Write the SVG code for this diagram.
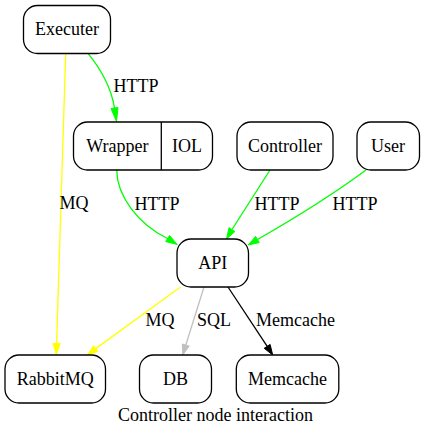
<svg xmlns="http://www.w3.org/2000/svg" width="434" height="439" viewBox="0 0 434 439">
<style>
.n{fill:#fff;stroke:#000;stroke-width:1.3}
.e{fill:none;stroke-width:1.3}
.g{stroke:#00ff00}.gf{fill:#00ff00;stroke:#00ff00}
.y{stroke:#ffff00}.yf{fill:#ffff00;stroke:#ffff00}
.s{stroke:#c0c0c0}.sf{fill:#c0c0c0;stroke:#c0c0c0}
.k{stroke:#000}.kf{fill:#000;stroke:#000}
</style>
<rect width="434" height="439" fill="#fff"/>
<g id="connectors">
<path class="e y" d="M65.7,53.3 L56.6,343.5"/>
<polygon class="yf" points="53,343.4 60.2,343.6 56.3,354.5"/>
<text style="font-family:'Liberation Serif',serif !important" font-size="18" text-anchor="middle" x="74" y="209">MQ</text>

<path class="e g" d="M88,53.3 C100,68 111,86 114.5,108"/>
<polygon class="gf" points="111,108.5 118,107.5 116.5,121.5"/>
<text style="font-family:'Liberation Serif',serif !important" font-size="18" text-anchor="middle" x="136" y="92">HTTP</text>

<path class="e g" d="M116.7,170 C117,196 138,224 167.5,238.5"/>
<polygon class="gf" points="165.7,241.6 169.5,235.5 177.3,244.5"/>
<text style="font-family:'Liberation Serif',serif !important" font-size="18" text-anchor="middle" x="157" y="210">HTTP</text>

<path class="e g" d="M270,170 L232,229.5"/>
<polygon class="gf" points="234.9,231.5 229,227.7 226.5,239"/>
<text style="font-family:'Liberation Serif',serif !important" font-size="18" text-anchor="middle" x="277" y="210">HTTP</text>

<path class="e g" d="M366,170 C335,193 295,218 257.5,239.5"/>
<polygon class="gf" points="259.3,242.6 255.6,236.4 248.3,245"/>
<text style="font-family:'Liberation Serif',serif !important" font-size="18" text-anchor="middle" x="355" y="210">HTTP</text>

<path class="e y" d="M180.5,287 L95.7,348.6"/>
<polygon class="yf" points="97.8,351.5 93.6,345.7 87.3,355"/>
<text style="font-family:'Liberation Serif',serif !important" font-size="18" text-anchor="middle" x="160" y="326">MQ</text>

<path class="e s" d="M204,287 L185.8,345"/>
<polygon class="sf" points="189.2,346.1 182.4,344 182.8,355"/>
<text style="font-family:'Liberation Serif',serif !important" font-size="18" text-anchor="middle" x="214" y="326">SQL</text>

<path class="e k" d="M228,287 L267.2,346.3"/>
<polygon class="kf" points="264.2,348.3 270.1,344.4 272.7,355"/>
<text style="font-family:'Liberation Serif',serif !important" font-size="18" text-anchor="middle" x="295.5" y="326">Memcache</text>
</g>
<g id="Executer">
<rect class="n" x="23.5" y="5.5" width="87" height="48" rx="14"/>
<text style="font-family:'Liberation Serif',serif !important" font-size="18" text-anchor="middle" x="67" y="35">Executer</text>
</g>
<g id="Wrapper">
<rect class="n" x="73.5" y="122" width="139" height="48" rx="14"/>
<line class="n" x1="161.3" y1="122" x2="161.3" y2="170"/>
<text style="font-family:'Liberation Serif',serif !important" font-size="18" text-anchor="middle" x="117.4" y="151.5">Wrapper</text>
<text style="font-family:'Liberation Serif',serif !important" font-size="18" text-anchor="middle" x="187" y="151.5">IOL</text>
</g>
<g id="Controller">
<rect class="n" x="237" y="122" width="96" height="48" rx="14"/>
<text style="font-family:'Liberation Serif',serif !important" font-size="18" text-anchor="middle" x="285" y="151.5">Controller</text>
</g>
<g id="User">
<rect class="n" x="357" y="122" width="62.5" height="48" rx="14"/>
<text style="font-family:'Liberation Serif',serif !important" font-size="18" text-anchor="middle" x="388" y="151.5">User</text>
</g>
<g id="API">
<rect class="n" x="177" y="239" width="71.5" height="48" rx="14"/>
<text style="font-family:'Liberation Serif',serif !important" font-size="18" text-anchor="middle" x="212.7" y="268.5">API</text>
</g>
<g id="RabbitMQ">
<rect class="n" x="5" y="355" width="100.5" height="48" rx="14"/>
<text style="font-family:'Liberation Serif',serif !important" font-size="18" text-anchor="middle" x="55.2" y="384.5">RabbitMQ</text>
</g>
<g id="DB">
<rect class="n" x="139.5" y="355" width="72" height="48" rx="14"/>
<text style="font-family:'Liberation Serif',serif !important" font-size="18" text-anchor="middle" x="175.5" y="384.5">DB</text>
</g>
<g id="Memcache">
<rect class="n" x="236.3" y="355" width="102.5" height="48" rx="14"/>
<text style="font-family:'Liberation Serif',serif !important" font-size="18" text-anchor="middle" x="287.5" y="384.5">Memcache</text>
</g>
<text style="font-family:'Liberation Serif',serif !important" font-size="18" text-anchor="middle" x="215.5" y="421">Controller node interaction</text>
</svg>
